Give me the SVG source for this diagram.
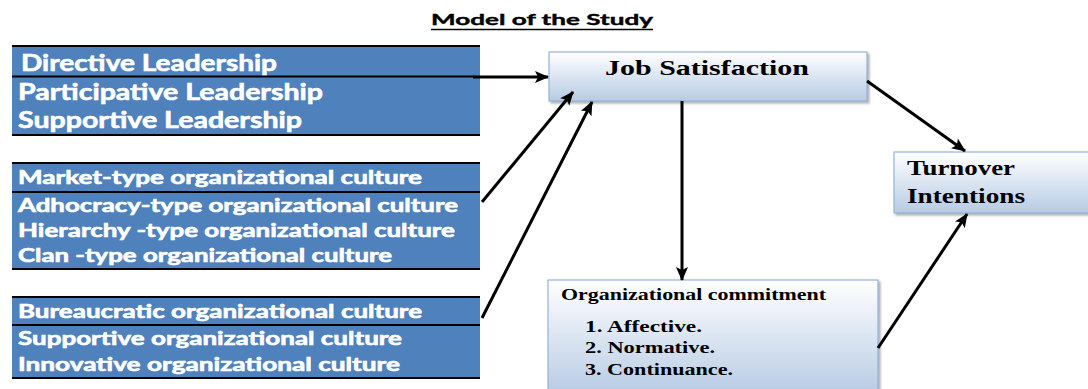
<svg xmlns="http://www.w3.org/2000/svg" width="1088" height="389" viewBox="0 0 1088 389">
<defs>
<linearGradient id="g" x1="0" y1="0" x2="0" y2="1">
<stop offset="0" stop-color="#ffffff"/>
<stop offset="1" stop-color="#b7cbe4"/>
</linearGradient>
<marker id="ah" markerUnits="userSpaceOnUse" markerWidth="14" markerHeight="12" refX="13" refY="6" orient="auto">
<path d="M0,0 L14,6 L0,12 L3,6 Z" fill="#000"/>
</marker>
<filter id="sh" x="-5%" y="-10%" width="115%" height="130%">
<feDropShadow dx="2" dy="2" stdDeviation="1.2" flood-color="#7f7f7f" flood-opacity="0.6"/>
</filter>
</defs>
<style>
.blk{fill:#4f81bd}
.ln{stroke:#000;stroke-width:2}
.wt{fill:#fff;stroke:#fff;stroke-width:0.6;font-family:Lato,"Open Sans",sans-serif;font-weight:bold}
.bx{fill:url(#g);stroke:#95b3d7;stroke-width:1.2;filter:url(#sh)}
.sf{fill:#000;font-family:"Liberation Serif","Times New Roman",serif;font-weight:bold}
.cn{stroke:#000;stroke-width:3;fill:none;marker-end:url(#ah)}
.tt{fill:#000;stroke:#000;stroke-width:0.4;font-family:Lato,"Open Sans",sans-serif;font-weight:bold;font-size:16px}
</style>
<g id="title">
<text class="tt" x="431" y="25" textLength="222" lengthAdjust="spacingAndGlyphs">Model of the Study</text>
<line x1="431" y1="29.5" x2="653" y2="29.5" stroke="#000" stroke-width="1.5"/>
</g>
<g id="leadership">
<rect class="blk" x="12" y="46" width="468" height="89"/>
<line class="ln" x1="12" y1="46" x2="480" y2="46"/>
<line class="ln" x1="12" y1="76.5" x2="474" y2="76.5"/>
<line class="ln" x1="12" y1="135" x2="480" y2="135"/>
<text class="wt" font-size="22" x="21" y="71" textLength="256" lengthAdjust="spacingAndGlyphs">Directive Leadership</text>
<text class="wt" font-size="22" x="18" y="100" textLength="305" lengthAdjust="spacingAndGlyphs">Participative Leadership</text>
<text class="wt" font-size="22" x="18" y="128" textLength="284" lengthAdjust="spacingAndGlyphs">Supportive Leadership</text>
</g>
<g id="culture-types">
<rect class="blk" x="12" y="163" width="468" height="106"/>
<line class="ln" x1="12" y1="163" x2="480" y2="163"/>
<line class="ln" x1="12" y1="192" x2="480" y2="192"/>
<line class="ln" x1="12" y1="269" x2="480" y2="269"/>
<text class="wt" font-size="18" x="18" y="184" textLength="404" lengthAdjust="spacingAndGlyphs">Market-type organizational culture</text>
<text class="wt" font-size="18" x="18" y="212" textLength="440" lengthAdjust="spacingAndGlyphs">Adhocracy-type organizational culture</text>
<text class="wt" font-size="18" x="18" y="237" textLength="437" lengthAdjust="spacingAndGlyphs">Hierarchy -type organizational culture</text>
<text class="wt" font-size="18" x="18" y="262" textLength="374" lengthAdjust="spacingAndGlyphs">Clan -type organizational culture</text>
</g>
<g id="culture-kinds">
<rect class="blk" x="12" y="297" width="468" height="81"/>
<line class="ln" x1="12" y1="297" x2="480" y2="297"/>
<line class="ln" x1="12" y1="325" x2="480" y2="325"/>
<line class="ln" x1="12" y1="378" x2="480" y2="378"/>
<text class="wt" font-size="18" x="18" y="318" textLength="404" lengthAdjust="spacingAndGlyphs">Bureaucratic organizational culture</text>
<text class="wt" font-size="18" x="18" y="345" textLength="384" lengthAdjust="spacingAndGlyphs">Supportive organizational culture</text>
<text class="wt" font-size="18" x="18" y="371" textLength="382" lengthAdjust="spacingAndGlyphs">Innovative organizational culture</text>
</g>
<g id="job-satisfaction">
<rect class="bx" x="549" y="52" width="318" height="49"/>
<text class="sf" font-size="21" x="605" y="75" textLength="204" lengthAdjust="spacingAndGlyphs">Job Satisfaction</text>
</g>
<g id="turnover">
<rect class="bx" x="894" y="152" width="200" height="61"/>
<text class="sf" font-size="20" x="907" y="175" textLength="108" lengthAdjust="spacingAndGlyphs">Turnover</text>
<text class="sf" font-size="20" x="907" y="203" textLength="118" lengthAdjust="spacingAndGlyphs">Intentions</text>
</g>
<g id="commitment">
<rect class="bx" x="548" y="280" width="330" height="115"/>
<text class="sf" font-size="16" x="561" y="300" textLength="265" lengthAdjust="spacingAndGlyphs">Organizational commitment</text>
<text class="sf" font-size="16" x="585" y="332" textLength="117" lengthAdjust="spacingAndGlyphs">1. Affective.</text>
<text class="sf" font-size="16" x="585" y="353" textLength="130" lengthAdjust="spacingAndGlyphs">2. Normative.</text>
<text class="sf" font-size="16" x="585" y="375" textLength="148" lengthAdjust="spacingAndGlyphs">3. Continuance.</text>
</g>
<g id="connectors">
<line class="cn" x1="473" y1="77" x2="548" y2="77"/>
<line class="cn" x1="482" y1="202" x2="573" y2="92"/>
<line class="cn" x1="482" y1="318" x2="592" y2="102"/>
<line class="cn" x1="682" y1="101" x2="682" y2="280"/>
<line class="cn" x1="867" y1="81" x2="965" y2="151"/>
<line class="cn" x1="878" y1="348" x2="967" y2="214"/>
</g>
</svg>
